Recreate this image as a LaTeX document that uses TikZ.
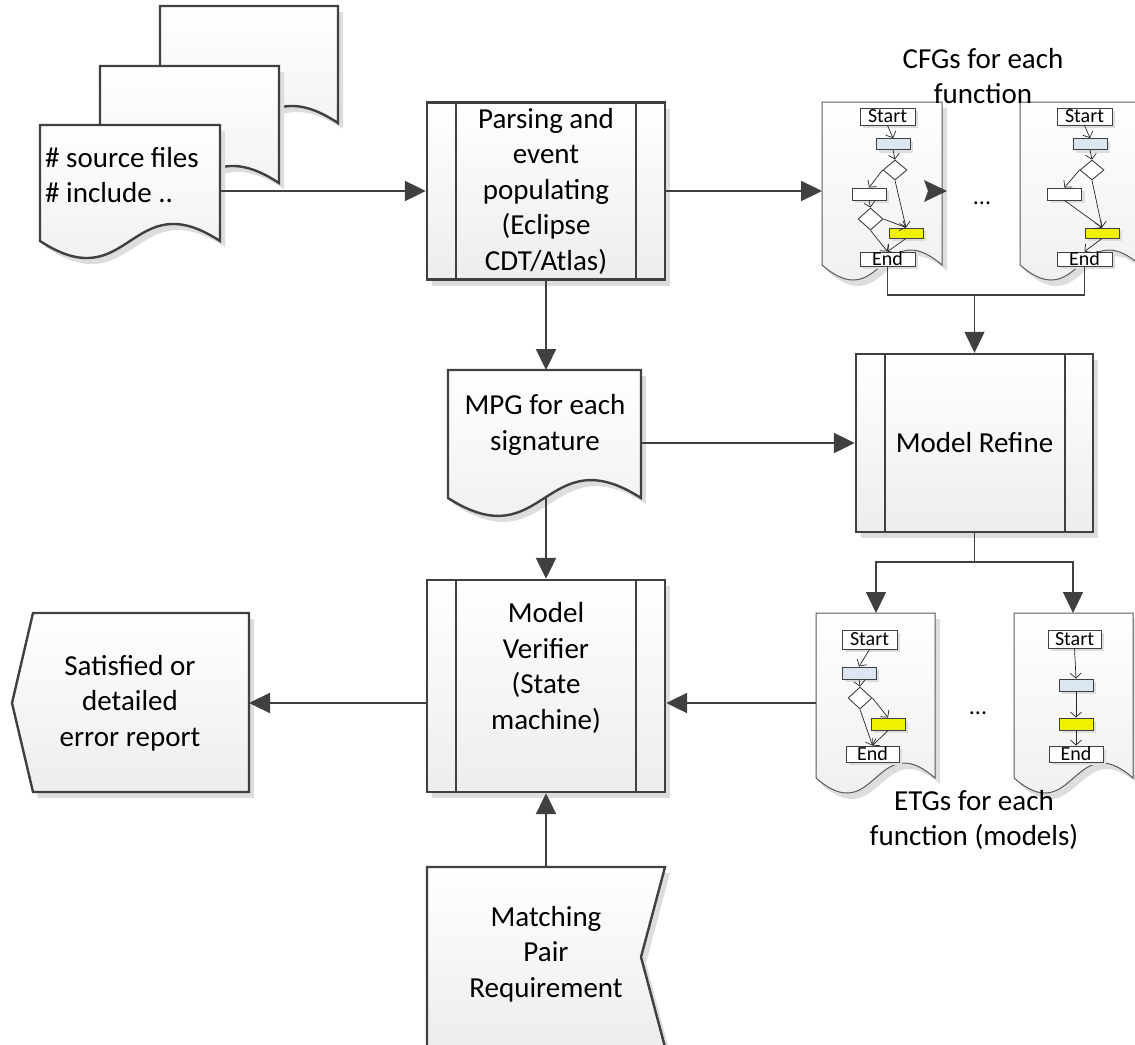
\documentclass[tikz,border=0pt]{standalone}
\usepackage{fontspec}
\setmainfont{Carlito}
\usetikzlibrary{arrows.meta,shapes.geometric,shadows}
\definecolor{edgegray}{HTML}{404040}
\definecolor{docgray}{HTML}{5A5A5A}
\definecolor{fillbottom}{HTML}{EDEDED}
\definecolor{shadowgray}{HTML}{DDDDDD}
\definecolor{miniblue}{HTML}{DCE6F2}
\definecolor{miniyellow}{HTML}{F0F000}

% document shape with a wavy lower edge: style, left, right, top, bottom, wave control offset
\newcommand\wavedoc[6]{%
  \fill[shadowgray,xshift=5pt,yshift=-6pt] (#2,#4) -- (#3,#4) -- (#3,#5)
    .. controls ({(#2+#3)/2},{#5-#6}) and ({(#2+#3)/2},{#5+#6}) .. (#2,#5) -- cycle;
  \path[#1] (#2,#4) -- (#3,#4) -- (#3,#5)
    .. controls ({(#2+#3)/2},{#5-#6}) and ({(#2+#3)/2},{#5+#6}) .. (#2,#5) -- cycle;}

\begin{document}
\begin{tikzpicture}[x=1pt,y=-1pt,
  txt/.style={font=\fontsize{29}{35.5}\selectfont,align=center,inner sep=0pt},
  flow/.style={draw=edgegray,line width=2.2pt},
  thinflow/.style={draw=edgegray,line width=1.3pt},
  tip/.style={-{Triangle[length=21pt,width=20pt]}},
  procbox/.style={rectangle,draw=edgegray,line width=2.4pt,top color=white,bottom color=fillbottom,inner sep=0pt,
     drop shadow={shadow xshift=5pt,shadow yshift=-6pt,fill=shadowgray,opacity=1}},
  bigdoc/.style={draw=edgegray,line width=2.4pt,top color=white,bottom color=fillbottom},
  smalldoc/.style={draw=docgray,line width=1pt,top color=white,bottom color=fillbottom},
  mini/.style={rectangle,draw=edgegray,line width=0.9pt,inner sep=0pt,minimum width=34pt,minimum height=11pt,
     drop shadow={shadow xshift=3pt,shadow yshift=-3pt,fill=shadowgray,opacity=1}},
  term/.style={mini,fill=white,minimum width=55pt,minimum height=17pt,font=\fontsize{20}{20}\selectfont},
  bluebox/.style={mini,fill=miniblue},
  yellowbox/.style={mini,fill=miniyellow},
  whitebox/.style={mini,fill=white},
  dia/.style={diamond,draw=edgegray,line width=0.9pt,fill=white,inner sep=0pt,minimum width=24pt,minimum height=20pt},
  marr/.style={draw=black!85,line width=0.7pt,-{Straight Barb[length=5pt,width=11pt]}},
  dots/.style={font=\fontsize{24}{24}\selectfont,inner sep=0pt}
]
\useasboundingbox (0,0) rectangle (1135,1044);
\clip (0,0) rectangle (1135,1044);

% ---------- source file stack ----------
\wavedoc{bigdoc}{160}{338}{6}{123}{59}
\wavedoc{bigdoc}{100}{279}{66}{183}{59}
\wavedoc{bigdoc}{40}{220}{125}{241}{59}
\node[txt,align=left,anchor=west] (srctxt) at (45,175) {\# source files\\\# include ..};
\coordinate (srcE) at (220,191);

% ---------- parsing ----------
\node[procbox,minimum width=238pt,minimum height=177pt] (parsing) at (546,191) {};
\draw[edgegray,line width=2.4pt] ([xshift=30pt]parsing.north west) -- ([xshift=30pt]parsing.south west)
  ([xshift=-30pt]parsing.north east) -- ([xshift=-30pt]parsing.south east);
\node[txt] (parsingtxt) at (546,191) {Parsing and\\event\\populating\\(Eclipse\\CDT/Atlas)};

% ---------- CFG documents ----------
\wavedoc{smalldoc}{822}{942}{102}{265}{52}
\wavedoc{smalldoc}{1020}{1140}{102}{265}{52}
\coordinate (cfgA) at (822,191);

% first CFG
\node[term] (s1) at (887.5,116.5) {Start};
\node[bluebox] (b1) at (893,144) {};
\node[dia] (d1) at (895,170) {};
\node[whitebox,minimum height=12pt] (w1) at (869,194) {};
\node[dia,minimum width=25pt,minimum height=22pt] (d2) at (870.5,219) {};
\node[yellowbox,minimum height=10pt] (y1) at (906,233) {};
\node[term,minimum height=14pt] (e1) at (887.5,259) {End};
\draw[marr] (s1.south) -- (b1.north);
\draw[marr] (b1.south) -- (d1.north);
\draw[marr] (d1.west) -- (w1.north);
\draw[marr] (d1.south) -- (y1.north);
\draw[marr] (w1.south) -- (d2.north);
\draw[marr] (d2.east) -- (y1.north);
\draw[marr] (d2.south) -- (e1.north);
\draw[marr] (y1.south) -- (e1.north);

% second CFG
\node[term] (s2) at (1084.5,116.5) {Start};
\node[bluebox] (b2) at (1090,144) {};
\node[dia] (d3) at (1092,170) {};
\node[whitebox,minimum height=12pt] (w2) at (1064.5,194) {};
\node[yellowbox,minimum height=10pt] (y2) at (1102,233) {};
\node[term,minimum height=14pt] (e2) at (1084.5,259) {End};
\draw[marr] (s2.south) -- (b2.north);
\draw[marr] (b2.south) -- (d3.north);
\draw[marr] (d3.west) -- (w2.north);
\draw[marr] (d3.south) -- (y2.north);
\draw[marr] (w2.south) -- (y2.north);
\draw[marr] (y2.south) -- (e2.north);

\node[dots] (cfgdots) at (982,203) {...};
\fill[edgegray] (947,191) -- (924,180) -- (928,191) -- (924,202) -- cycle;

% ---------- MPG document ----------
\wavedoc{bigdoc}{448}{641}{370}{498}{62}
\node[txt] (mpgtxt) at (545,425) {MPG for each\\signature};
\coordinate (mpgN) at (546,370);
\coordinate (mpgE) at (641,443);
\coordinate (mpgS) at (546,498);

% ---------- model refine ----------
\node[procbox,minimum width=237pt,minimum height=178pt] (refine) at (974.5,443) {};
\draw[edgegray,line width=2.4pt] ([xshift=30pt]refine.north west) -- ([xshift=30pt]refine.south west)
  ([xshift=-29pt]refine.north east) -- ([xshift=-29pt]refine.south east);
\node[txt] (refinetxt) at (974.5,443) {Model Refine};

% ---------- ETG documents ----------
\wavedoc{smalldoc}{816}{935}{613}{778}{52}
\wavedoc{smalldoc}{1014}{1133}{613}{778}{52}
\coordinate (etgAN) at (876,613);
\coordinate (etgBN) at (1073,613);
\coordinate (etgAW) at (816,703);

% first ETG
\node[term,minimum height=19pt] (s3) at (869.5,639.5) {Start};
\node[bluebox,minimum height=12pt] (b3) at (859,673) {};
\node[dia,minimum height=22pt] (d4) at (860,698) {};
\node[yellowbox,minimum height=12pt] (y3) at (888,724) {};
\node[term,minimum width=53pt,minimum height=16pt] (e3) at (872.5,754) {End};
\draw[marr] (s3.south) -- (b3.north);
\draw[marr] (b3.south) -- (d4.north);
\draw[marr] (d4.east) -- (y3.north);
\draw[marr] (d4.south) -- (e3.north);
\draw[marr] (y3.south) -- (e3.north);

% second ETG
\node[term,minimum width=53pt,minimum height=18pt] (s4) at (1074.5,639) {Start};
\node[bluebox,minimum height=12pt] (b4) at (1076,685) {};
\node[yellowbox,minimum height=12pt] (y4) at (1076,724) {};
\node[term,minimum width=54pt,minimum height=16pt] (e4) at (1076,754) {End};
\draw[marr] (s4.south) -- (b4.north);
\draw[marr] (b4.south) -- (y4.north);
\draw[marr] (y4.south) -- (e4.north);

\node[dots] (etgdots) at (978,713) {...};

% ---------- model verifier ----------
\node[procbox,minimum width=238pt,minimum height=212pt] (verifier) at (546,686) {};
\draw[edgegray,line width=2.4pt] ([xshift=30pt]verifier.north west) -- ([xshift=30pt]verifier.south west)
  ([xshift=-30pt]verifier.north east) -- ([xshift=-30pt]verifier.south east);
\node[txt] (verifiertxt) at (546,668) {Model\\Verifier\\(State\\machine)};

% ---------- report (display shape) ----------
\fill[shadowgray,xshift=5pt,yshift=-6pt] (33,613) -- (249,613) -- (249,792) -- (33,792) -- (12,703) -- cycle;
\path[bigdoc] (33,613) -- (249,613) -- (249,792) -- (33,792) -- (12,703) -- cycle;
\node[txt] (reporttxt) at (130,703) {Satisfied or\\detailed\\error report};
\coordinate (repE) at (249,703);

% ---------- matching pair requirement ----------
\fill[shadowgray,xshift=5pt,yshift=-6pt] (427,867) -- (665,867) -- (641,957) -- (665,1047) -- (427,1047) -- cycle;
\path[bigdoc] (427,867) -- (665,867) -- (641,957) -- (665,1047) -- (427,1047) -- cycle;
\node[txt] (matchtxt) at (546,954) {Matching\\Pair\\Requirement};
\coordinate (matchN) at (546,867);

% ---------- connectors ----------
\draw[flow,tip] (srcE) -- (parsing.west |- srcE);
\draw[flow,tip] (parsing.east |- cfgA) -- (cfgA);
\draw[flow,tip] (parsing.south) -- (mpgN);
\draw[thinflow] (e1.south) |- (974.5,295) -| (e2.south);
\coordinate (cfgJoin) at (974.5,295);
\draw[thinflow,tip] (cfgJoin) -- (refine.north);
\draw[flow,tip] (mpgE) -- (refine.west);
\coordinate (refineJoin) at (974.5,562);
\draw[thinflow] (refine.south) -- (refineJoin);
\draw[thinflow,tip] (refineJoin) -| (etgAN);
\draw[thinflow,tip] (refineJoin) -| (etgBN);
\draw[flow,tip] (mpgS) -- (verifier.north);
\draw[flow,tip] (etgAW) -- (etgAW -| verifier.east);
\draw[flow,tip] (verifier.west |- repE) -- (repE);
\draw[flow,tip] (matchN) -- (verifier.south);

% ---------- labels ----------
\node[txt] (cfglabel) at (983,76) {CFGs for each\\function};
\node[txt] (etglabel) at (974,820) {ETGs for each\\function (models)};
\end{tikzpicture}
\end{document}
